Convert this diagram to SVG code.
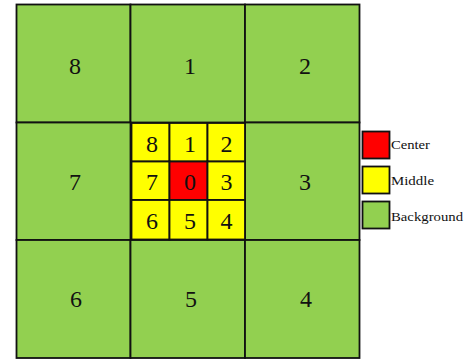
<svg xmlns="http://www.w3.org/2000/svg" width="475" height="360" viewBox="0 0 475 360">
<style>
.bg{fill:#92D050;stroke:#111;stroke-width:1.8}
.mid{fill:#FFFF00;stroke:#111;stroke-width:1.8}
.ctr{fill:#FF0000;stroke:#111;stroke-width:1.8}
.num{font-family:"Liberation Serif",serif;font-size:24px;fill:#111;text-anchor:middle}
.leg{font-family:"Liberation Serif",serif;font-size:13.5px;fill:#111}
</style>
<rect width="475" height="360" fill="#fff"/>
<g id="bg-8"><rect class="bg" x="16.5" y="4.5" width="114" height="118"/><text class="num" x="75" y="74">8</text></g>
<g id="bg-1"><rect class="bg" x="130.5" y="4.5" width="114.5" height="118"/><text class="num" x="190" y="74">1</text></g>
<g id="bg-2"><rect class="bg" x="245" y="4.5" width="114.5" height="118"/><text class="num" x="305" y="74">2</text></g>
<g id="bg-7"><rect class="bg" x="16.5" y="122.5" width="114" height="117.5"/><text class="num" x="75" y="190">7</text></g>
<g id="bg-3"><rect class="bg" x="245" y="122.5" width="114.5" height="117.5"/><text class="num" x="305" y="190">3</text></g>
<g id="bg-6"><rect class="bg" x="16.5" y="240" width="114" height="118"/><text class="num" x="76" y="307">6</text></g>
<g id="bg-5"><rect class="bg" x="130.5" y="240" width="114.5" height="118"/><text class="num" x="191" y="307">5</text></g>
<g id="bg-4"><rect class="bg" x="245" y="240" width="114.5" height="118"/><text class="num" x="306" y="307">4</text></g>
<g id="mid-8"><rect class="mid" x="131.5" y="123" width="38" height="38.5"/><text class="num" x="152" y="152">8</text></g>
<g id="mid-1"><rect class="mid" x="169.5" y="123" width="38" height="38.5"/><text class="num" x="190" y="152">1</text></g>
<g id="mid-2"><rect class="mid" x="207.5" y="123" width="37.5" height="38.5"/><text class="num" x="226.5" y="152">2</text></g>
<g id="mid-7"><rect class="mid" x="131.5" y="161.5" width="38" height="38.5"/><text class="num" x="152" y="190">7</text></g>
<g id="center-0"><rect class="ctr" x="169.5" y="161.5" width="38" height="38.5"/><text class="num" x="190" y="190">0</text></g>
<g id="mid-3"><rect class="mid" x="207.5" y="161.5" width="37.5" height="38.5"/><text class="num" x="226.5" y="190">3</text></g>
<g id="mid-6"><rect class="mid" x="131.5" y="200" width="38" height="39.5"/><text class="num" x="152" y="229">6</text></g>
<g id="mid-5"><rect class="mid" x="169.5" y="200" width="38" height="39.5"/><text class="num" x="190" y="229">5</text></g>
<g id="mid-4"><rect class="mid" x="207.5" y="200" width="37.5" height="39.5"/><text class="num" x="226.5" y="229">4</text></g>
<g id="legend">
<g id="legend-center"><rect class="ctr" x="362.5" y="131.5" width="27" height="27"/><text class="leg" x="391" y="149" textLength="39" lengthAdjust="spacingAndGlyphs">Center</text></g>
<g id="legend-middle"><rect class="mid" x="362.5" y="166.5" width="27" height="27"/><text class="leg" x="391" y="185" textLength="43" lengthAdjust="spacingAndGlyphs">Middle</text></g>
<g id="legend-background"><rect class="bg" x="362.5" y="201.5" width="27" height="27"/><text class="leg" x="391" y="221" textLength="72" lengthAdjust="spacingAndGlyphs">Background</text></g>
</g>
</svg>
